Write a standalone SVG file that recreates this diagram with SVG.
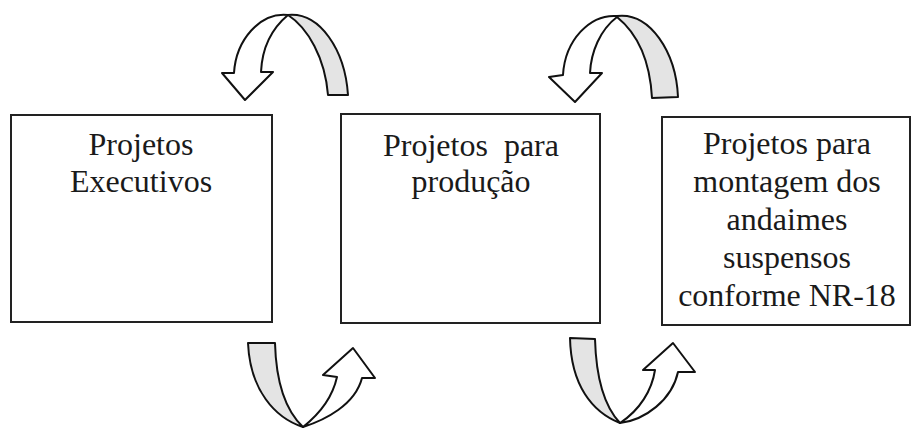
<svg xmlns="http://www.w3.org/2000/svg" width="912" height="428" viewBox="0 0 912 428">
<style>
.box{fill:#fff;stroke:#222;stroke-width:2}
.t{font-family:"Liberation Serif","Times New Roman",serif;font-size:32px;fill:#1a1a1a;text-anchor:middle}
.back{fill:#e4e4e4;stroke:#111;stroke-width:2;stroke-linejoin:round}
.front{fill:#fff;stroke:#111;stroke-width:2;stroke-linejoin:round}
</style>
<rect width="912" height="428" fill="#fff"/>
<g id="connectors">
  <g id="arrow-top-1">
    <path class="back" d="M288,15 C320,12 345,50 348,95 L328,95 C325,58 308,28 288,15 Z"/>
    <path class="front" d="M288,15 C260,12 236,40 234,73 L222,73 L245,100 L273,72 L261,72 C262,50 270,30 288,15 Z"/>
  </g>
  <g id="arrow-top-2">
    <path class="back" d="M617,16 C650,12 676,52 678,97 L652,98 C650,62 638,34 617,17 Z"/>
    <path class="front" d="M617,16 C590,14 565,40 563,75 L549,77 L575,102 L602,73 L590,73 C591,52 600,30 617,17 Z"/>
  </g>
  <g id="arrow-bottom-1">
    <path class="back" d="M248,343 L275,343 C276,380 285,410 303,427 C275,418 250,390 248,343 Z"/>
    <path class="front" d="M303,427 C325,420 355,405 362,378 L375,378 L353,348 L323,375 L337,377 C333,395 322,412 303,427 Z"/>
  </g>
  <g id="arrow-bottom-2">
    <path class="back" d="M570,338 L595,339 C596,375 603,405 620,423 C592,412 571,385 570,338 Z"/>
    <path class="front" d="M620,423 C645,420 672,400 678,372 L695,372 L673,343 L643,370 L655,370 C652,390 640,410 620,423 Z"/>
  </g>
</g>
<g id="node-executivos">
  <rect class="box" x="11" y="115" width="261" height="207"/>
  <text class="t" x="141" y="155">Projetos</text>
  <text class="t" x="141" y="192">Executivos</text>
</g>
<g id="node-producao">
  <rect class="box" x="341" y="114" width="259" height="209"/>
  <text class="t" x="471" y="156" xml:space="preserve">Projetos  para</text>
  <text class="t" x="471" y="192">produção</text>
</g>
<g id="node-andaimes">
  <rect class="box" x="662" y="117" width="248" height="208"/>
  <text class="t" x="787" y="154">Projetos para</text>
  <text class="t" x="787" y="192">montagem dos</text>
  <text class="t" x="787" y="230">andaimes</text>
  <text class="t" x="787" y="268">suspensos</text>
  <text class="t" x="787" y="306">conforme NR-18</text>
</g>
</svg>
